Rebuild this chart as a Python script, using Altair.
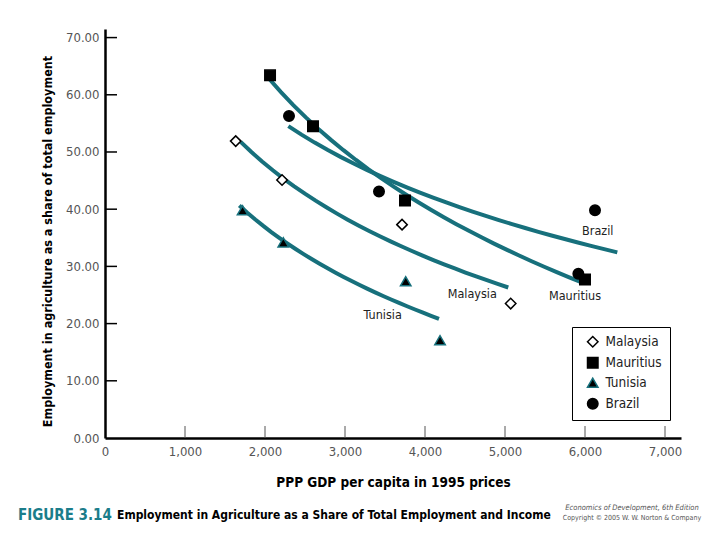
import altair as alt
import pandas as pd

# ---- data ----
countries = ["Malaysia", "Mauritius", "Tunisia", "Brazil"]
malaysia_x = [1634, 2213, 3713, 5071]
malaysia_y = [51.9, 45.1, 37.3, 23.5]
mauritius_x = [2063, 2600, 3750, 6000]
mauritius_y = [63.4, 54.5, 41.5, 27.7]
tunisia_x = [1720, 2229, 3759, 4188]
tunisia_y = [39.8, 34.2, 27.4, 17.1]
brazil_x = [2300, 3425, 5917, 6125]
brazil_y = [56.3, 43.1, 28.7, 39.8]

# extents of the fitted (logarithmic) trend curves
trend_extent = {
    "Malaysia": [1696, 5041],
    "Mauritius": [2040, 5960],
    "Tunisia": [1679, 4175],
    "Brazil": [2292, 6404],
}

# in-plot series labels
label_names = ["Brazil", "Mauritius", "Malaysia", "Tunisia"]
label_x = [6160, 5875, 4591, 3471]
label_y = [36.2, 24.9, 25.1, 21.5]

x_ticks = [0, 1000, 2000, 3000, 4000, 5000, 6000, 7000]
y_ticks = [0, 10, 20, 30, 40, 50, 60, 70]

TEAL = "#17707c"
NARROW = "DejaVu Sans Condensed, sans-serif"
W, H = 576, 409

rows = []
for c, xs, ys in [("Malaysia", malaysia_x, malaysia_y),
                  ("Mauritius", mauritius_x, mauritius_y),
                  ("Tunisia", tunisia_x, tunisia_y),
                  ("Brazil", brazil_x, brazil_y)]:
    for a, b in zip(xs, ys):
        rows.append({"country": c, "gdp": a, "share": b})
df = pd.DataFrame(rows)

XTITLE = "PPP GDP per capita in 1995 prices"
YTITLE = "Employment in agriculture as a share of total employment"

x_scale = alt.Scale(domain=[0, 7200], nice=False, zero=True)
y_scale = alt.Scale(domain=[0, 71.5], nice=False, zero=True)

x_axis = alt.Axis(values=x_ticks, format=",.0f", ticks=False, grid=False,
                  domainColor="black", domainWidth=2.5,
                  labelColor="#555555", labelFont=NARROW, labelFontSize=13,
                  labelPadding=7, labelFlush=False,
                  titleFont=NARROW, titleFontSize=13.5, titleFontWeight="bold",
                  titleColor="black", titleX=288, titleY=44, titleBaseline="middle")
y_axis = alt.Axis(values=y_ticks, format=".2f", ticks=False, grid=False,
                  domainColor="black", domainWidth=2.5,
                  labelColor="#555555", labelFont=NARROW, labelFontSize=13,
                  labelPadding=6, labelFlush=False,
                  titleFont=NARROW, titleFontSize=12.5, titleFontWeight="bold",
                  titleColor="black", titleX=-58, titleY=212, titleAngle=-90,
                  titleAlign="center", titleBaseline="middle")


def xe(field):
    return alt.X(f"{field}:Q", scale=x_scale, axis=x_axis, title=XTITLE)


def ye(field):
    return alt.Y(f"{field}:Q", scale=y_scale, axis=y_axis, title=YTITLE)


# trend curves
curves = []
for c in countries:
    curves.append(
        alt.Chart(df)
        .transform_filter(alt.datum.country == c)
        .transform_regression("gdp", "share", method="log", extent=trend_extent[c])
        .mark_line(color=TEAL, strokeWidth=4, strokeCap="butt")
        .encode(x=xe("gdp"), y=ye("share"))
    )

# points with merged legend
points = alt.Chart(df).mark_point(size=110, filled=False, opacity=1, strokeWidth=1.5).encode(
    x=xe("gdp"), y=ye("share"),
    shape=alt.Shape("country:N", title=None,
                    scale=alt.Scale(domain=countries,
                                    range=["diamond", "square", "triangle-up", "circle"])),
    fill=alt.Fill("country:N", title=None,
                  scale=alt.Scale(domain=countries,
                                  range=["white", "black", "black", "black"])),
    stroke=alt.Stroke("country:N", title=None,
                      scale=alt.Scale(domain=countries,
                                      range=["black", "black", TEAL, "black"])),
)

labels_df = pd.DataFrame({"name": label_names, "gdp": label_x, "share": label_y})
labels = alt.Chart(labels_df).mark_text(font=NARROW, fontSize=12.5, color="#222222").encode(
    x=xe("gdp"), y=ye("share"), text="name:N")

# inward tick marks
ytick_df = pd.DataFrame({"v": y_ticks[1:]})
yticks = alt.Chart(ytick_df).mark_rule(color="black", strokeWidth=1.5).encode(
    y=ye("v"), x=alt.value(0), x2=alt.value(12))
xtick_df = pd.DataFrame({"v": x_ticks[1:]})
xticks = alt.Chart(xtick_df).mark_rule(color="#555555", strokeWidth=1).encode(
    x=xe("v"), y=alt.value(H), y2=alt.value(H - 12))

# caption
one = pd.DataFrame({"t": ["FIGURE 3.14"]})
cap1 = alt.Chart(one).mark_text(align="left", baseline="middle", font=NARROW, fontSize=15,
                                fontWeight="bold", color="#1b7d8a").encode(
    text="t:N", x=alt.value(-87), y=alt.value(486))
two = pd.DataFrame({"t": ["Employment in Agriculture as a Share of Total Employment and Income"]})
cap2 = alt.Chart(two).mark_text(align="left", baseline="middle", font=NARROW, fontSize=12,
                                fontWeight="bold", color="black").encode(
    text="t:N", x=alt.value(12), y=alt.value(486))
three = pd.DataFrame({"t": ["Economics of Development, 6th Edition"]})
cap3 = alt.Chart(three).mark_text(align="center", baseline="middle", font=NARROW, fontSize=7.5,
                                  fontStyle="italic", color="#555555").encode(
    text="t:N", x=alt.value(527), y=alt.value(479))
four = pd.DataFrame({"t": ["Copyright \u00a9 2005 W. W. Norton & Company"]})
cap4 = alt.Chart(four).mark_text(align="center", baseline="middle", font=NARROW, fontSize=7,
                                 color="#555555").encode(
    text="t:N", x=alt.value(527), y=alt.value(489))

chart = alt.layer(*curves, yticks, xticks, points, labels, cap1, cap2, cap3, cap4).properties(
    width=W, height=H,
    autosize=alt.AutoSizeParams(type="none"),
    padding={"left": 97, "top": 21, "right": 25, "bottom": 90},
    background="white",
).configure_view(stroke=None).configure_legend(
    orient="none", legendX=467, legendY=298,
    strokeColor="black", strokeWidth=1, fillColor="white",
    padding=8, symbolOffset=6, labelOffset=6, rowPadding=4,
    labelFont=NARROW, labelFontSize=13.5, labelColor="#222222",
    symbolSize=110, symbolStrokeWidth=1.5,
)

chart.save("out.html", embed_options={"renderer": "svg", "actions": False})
